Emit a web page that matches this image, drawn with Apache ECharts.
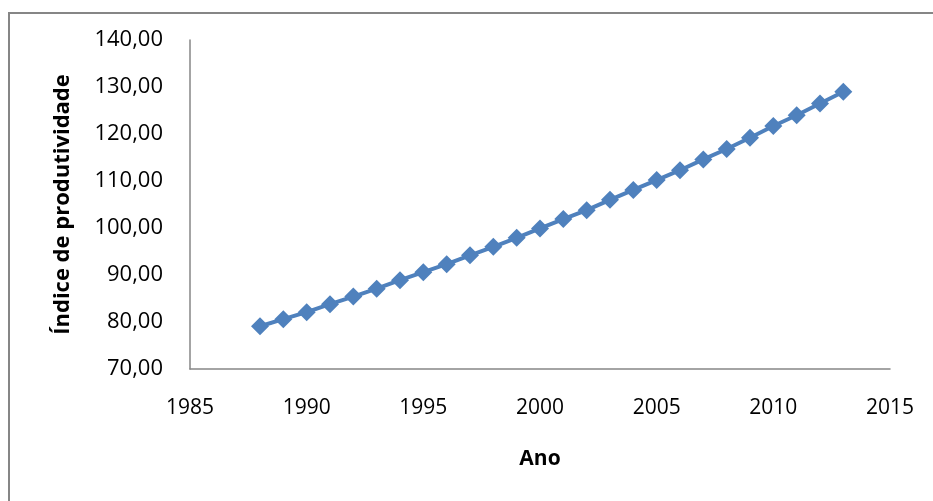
<!DOCTYPE html>
<html>
<head>
<meta charset="utf-8">
<script src="https://cdn.jsdelivr.net/npm/echarts@6/dist/echarts.min.js"></script>
<style>
html,body{margin:0;padding:0;background:#fff;}
#chart{width:933px;height:501px;}
</style>
</head>
<body>
<div id="chart"></div>
<script>
const years = [1988,1989,1990,1991,1992,1993,1994,1995,1996,1997,1998,1999,2000,2001,2002,2003,2004,2005,2006,2007,2008,2009,2010,2011,2012,2013];
const productivity = [79.1,80.6,82.1,83.8,85.4,87.1,88.9,90.6,92.3,94.2,96.0,97.9,99.9,101.9,103.8,106.0,108.1,110.2,112.3,114.6,116.8,119.2,121.7,124.0,126.5,129.0];
const xTitle = 'Ano';
const yTitle = 'Índice de produtividade';

const chart = echarts.init(document.getElementById('chart'), null, {renderer:'canvas'});
const font = 'Open Sans';
chart.setOption({
  animation:false,
  backgroundColor:'#fff',
  graphic:[{
    type:'rect', left:8, top:12, z:-1,
    shape:{width:960, height:520},
    style:{fill:'#fff', stroke:'#868686', lineWidth:2}
  }],
  grid:{left:190, top:40, right:43, bottom:132, containLabel:false},
  xAxis:{
    type:'value', min:1985, max:2015, interval:5,
    name:xTitle, nameLocation:'middle', nameGap:80,
    nameTextStyle:{fontFamily:font, fontWeight:'bold', fontSize:21, color:'#000'},
    axisLine:{show:true, lineStyle:{color:'#868686', width:1.5}},
    axisTick:{show:false},
    splitLine:{show:false},
    axisLabel:{fontFamily:font, fontSize:21, color:'#000', margin:29,
      formatter:v=>String(v)}
  },
  yAxis:{
    type:'value', min:70, max:140, interval:10,
    name:yTitle, nameLocation:'middle', nameGap:116, nameRotate:90,
    nameTextStyle:{fontFamily:font, fontWeight:'bold', fontSize:22, color:'#000'},
    axisLine:{show:true, lineStyle:{color:'#868686', width:1.5}},
    axisTick:{show:false},
    splitLine:{show:false},
    axisLabel:{fontFamily:font, fontSize:22, color:'#000', margin:27,
      formatter:v=>v.toFixed(2).replace('.',',')}
  },
  series:[{
    type:'line',
    data:years.map((y,i)=>[y,productivity[i]]),
    symbol:'diamond', symbolSize:[18,18],
    showAllSymbol:true,
    lineStyle:{color:'#4F81BD', width:4},
    itemStyle:{color:'#4F81BD'}
  }]
});
</script>
</body>
</html>
